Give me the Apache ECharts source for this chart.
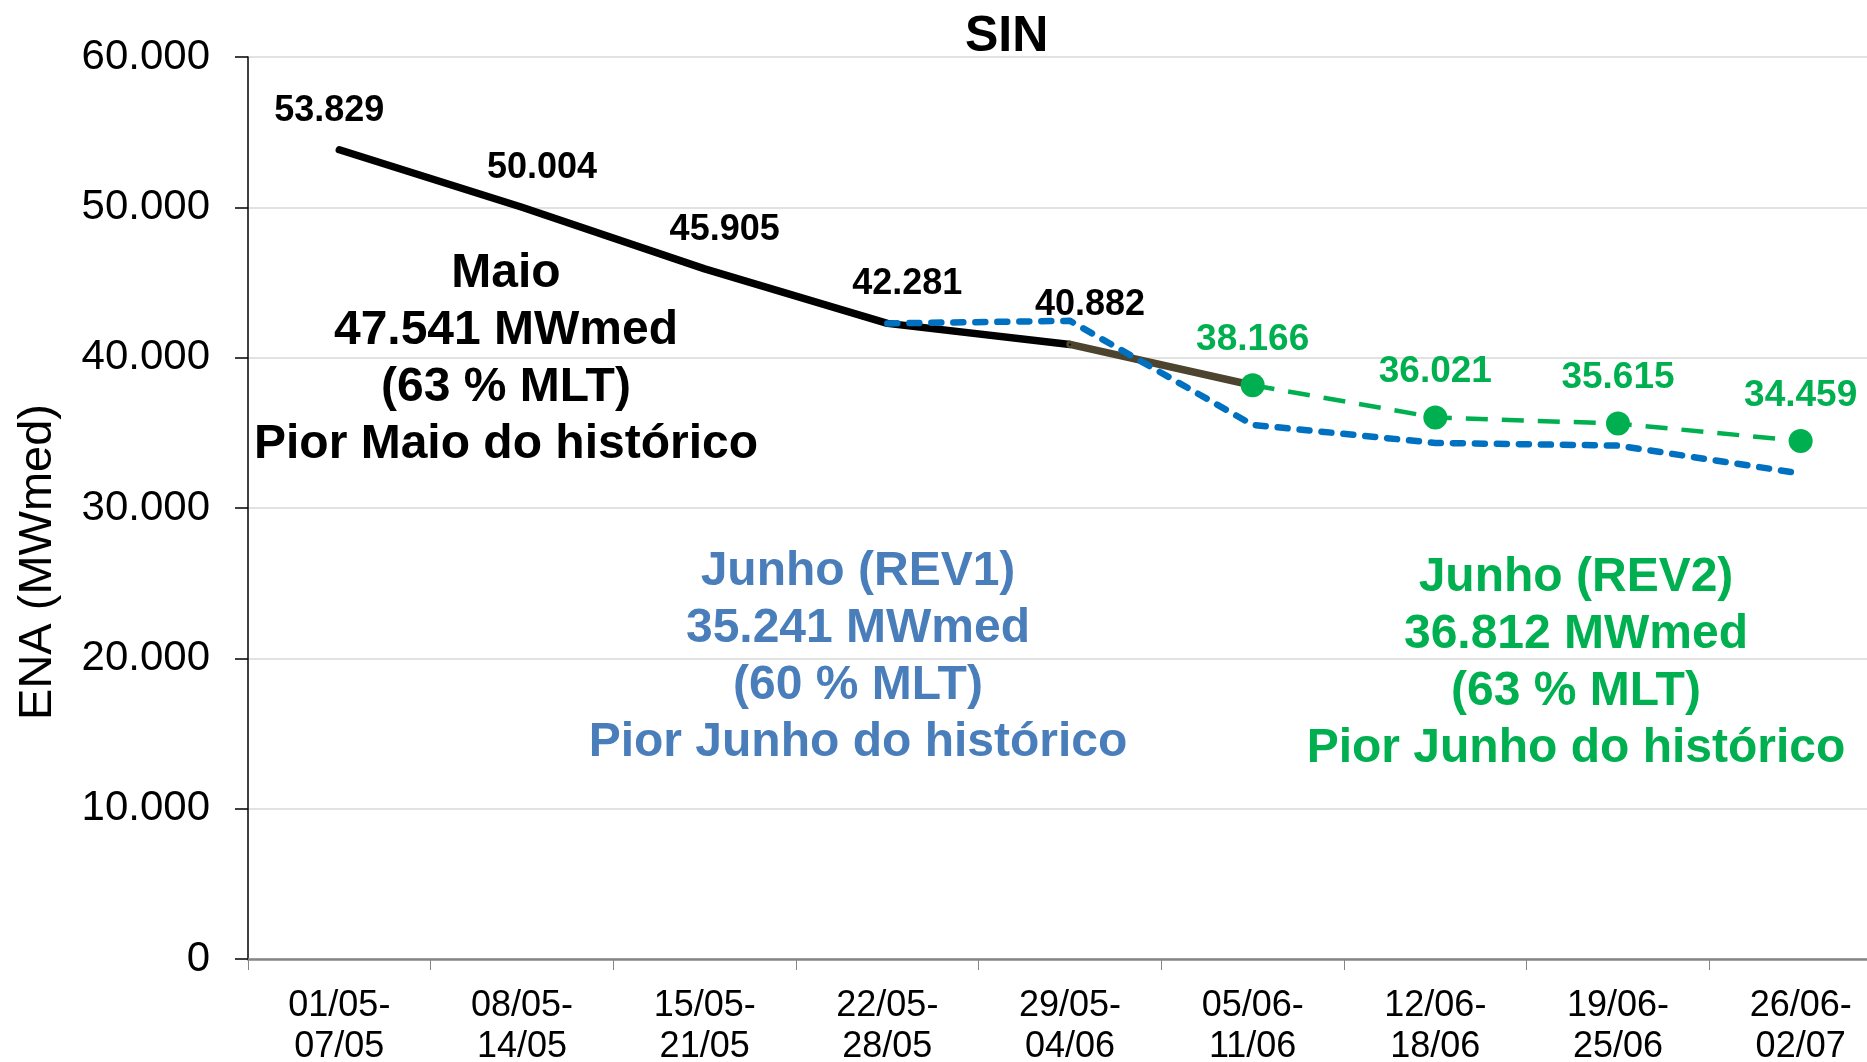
<!DOCTYPE html>
<html>
<head>
<meta charset="utf-8">
<title>SIN - ENA</title>
<script src="https://cdn.jsdelivr.net/npm/echarts@6/dist/echarts.min.js"></script>
<style>
  html, body { margin: 0; padding: 0; background: #fff; }
  #main { width: 1867px; height: 1062px; }
</style>
</head>
<body>
<div id="main"></div>
<script>
// semanas
var categorias = ['01/05-\n07/05', '08/05-\n14/05', '15/05-\n21/05', '22/05-\n28/05', '29/05-\n04/06',
                  '05/06-\n11/06', '12/06-\n18/06', '19/06-\n25/06', '26/06-\n02/07'];
// ENA verificada (maio)
var enaVerificada = [53829, 50004, 45905, 42281, 40882, null, null, null, null];
// trecho de transicao
var enaTransicao = [null, null, null, null, 40882, 38166, null, null, null];
// previsao junho REV1
var previsaoRev1 = [null, null, null, 42281, 42450, 35530, 34330, 34150, 32300];
// previsao junho REV2
var previsaoRev2 = [null, null, null, null, null, 38166, 36021, 35615, 34459];
var yTicks = [0, 10000, 20000, 30000, 40000, 50000, 60000];

var fonte = 'Liberation Sans, Arial, sans-serif';
function fmt(v) {
  return v === 0 ? '0' : (v / 1000).toFixed(3);
}

// primeiro rotulo fica um pouco mais a esquerda
var dadosVerificada = enaVerificada.map(function (v, i) {
  if (i === 0) return { value: v, label: { offset: [-10, 0] } };
  return v;
});

var myChart = echarts.init(document.getElementById('main'));

var option = {
  animation: false,
  title: {
    text: 'SIN',
    left: 960,
    top: 7,
    textStyle: { fontFamily: fonte, fontSize: 50, fontWeight: 'bold', color: '#000' }
  },
  grid: { left: 248, width: 1644, top: 57, bottom: 103, containLabel: false, outerBoundsMode: 'none' },
  xAxis: {
    type: 'category',
    data: categorias,
    boundaryGap: true,
    axisLine: { lineStyle: { color: '#868686', width: 2.5 } },
    axisTick: { show: true, length: 11, lineStyle: { color: '#868686', width: 1 } },
    axisLabel: { fontFamily: fonte, fontSize: 36, color: '#000', lineHeight: 41, margin: 27, interval: 0 },
    splitLine: { show: false }
  },
  yAxis: {
    type: 'value',
    min: yTicks[0],
    max: yTicks[yTicks.length - 1],
    interval: 10000,
    axisLine: { show: true, lineStyle: { color: '#000', width: 1.5 } },
    axisTick: { show: true, inside: false, length: 13, lineStyle: { color: '#000', width: 1.5 } },
    axisLabel: { fontFamily: fonte, fontSize: 42, color: '#000', margin: 38, formatter: fmt },
    splitLine: { show: true, lineStyle: { color: '#D9D9D9', width: 1.5 } }
  },
  graphic: [
    {
      type: 'text', x: 38, y: 562, rotation: Math.PI / 2,
      style: { text: 'ENA (MWmed)', font: '47px ' + fonte, fill: '#000', textAlign: 'center', textVerticalAlign: 'middle' }
    },
    {
      type: 'text', x: 506, y: 359,
      style: {
        text: 'Maio\n47.541 MWmed\n(63 % MLT)\nPior Maio do histórico',
        font: 'bold 48px ' + fonte, fill: '#000', lineHeight: 57,
        textAlign: 'center', textVerticalAlign: 'middle'
      }
    },
    {
      type: 'text', x: 858, y: 657,
      style: {
        text: 'Junho (REV1)\n35.241 MWmed\n(60 % MLT)\nPior Junho do histórico',
        font: 'bold 48px ' + fonte, fill: '#4A7EBB', lineHeight: 57,
        textAlign: 'center', textVerticalAlign: 'middle'
      }
    },
    {
      type: 'text', x: 1576, y: 663,
      style: {
        text: 'Junho (REV2)\n36.812 MWmed\n(63 % MLT)\nPior Junho do histórico',
        font: 'bold 48px ' + fonte, fill: '#00B050', lineHeight: 57,
        textAlign: 'center', textVerticalAlign: 'middle'
      }
    }
  ],
  series: [
    {
      name: 'ENA verificada',
      type: 'line',
      data: dadosVerificada,
      symbol: 'circle',
      symbolSize: 2,
      showSymbol: true,
      z: 3,
      itemStyle: { color: '#000' },
      lineStyle: { color: '#000', width: 7.5, cap: 'round', join: 'round' },
      label: {
        show: true, position: 'top', distance: 20, offset: [20, 0],
        fontFamily: fonte, fontSize: 36, fontWeight: 'bold', color: '#000',
        formatter: function (p) { return fmt(p.value); }
      }
    },
    {
      name: 'Transicao',
      type: 'line',
      data: enaTransicao,
      symbol: 'none',
      z: 3,
      lineStyle: { color: '#4D4430', width: 7.5, cap: 'round' }
    },
    {
      name: 'Junho REV1',
      type: 'line',
      data: previsaoRev1,
      symbol: 'none',
      z: 4,
      lineStyle: { color: '#0070C0', width: 6.5, type: [10, 12], cap: 'round', join: 'round' }
    },
    {
      name: 'Junho REV2',
      type: 'line',
      data: previsaoRev2,
      symbol: 'circle',
      symbolSize: 24,
      showAllSymbol: true,
      z: 5,
      itemStyle: { color: '#00B050' },
      lineStyle: { color: '#00B050', width: 4.5, type: [22, 14] },
      label: {
        show: true, position: 'top', distance: 15,
        fontFamily: fonte, fontSize: 37, fontWeight: 'bold', color: '#00B050',
        formatter: function (p) { return fmt(p.value); }
      }
    }
  ]
};
myChart.setOption(option);
</script>
</body>
</html>
